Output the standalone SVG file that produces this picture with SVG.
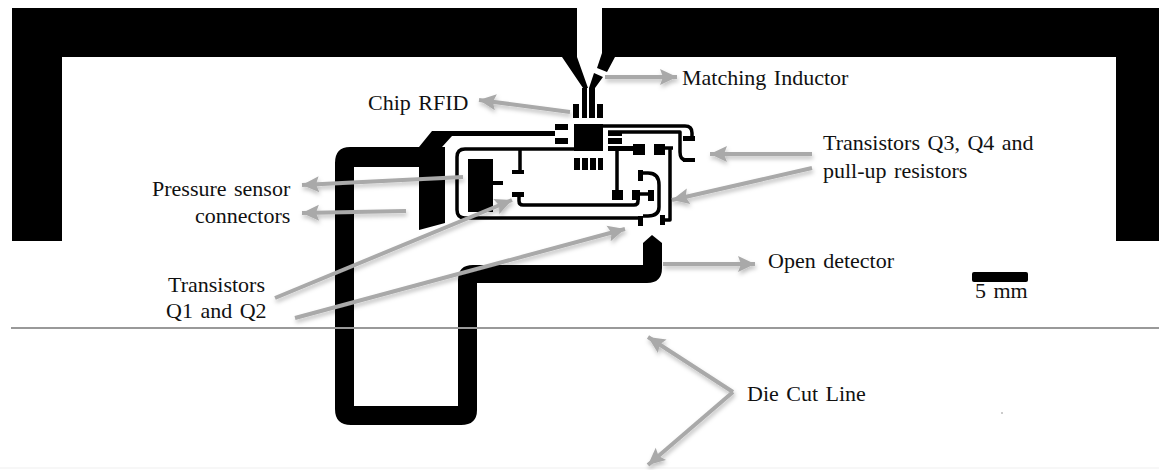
<svg xmlns="http://www.w3.org/2000/svg" width="1159" height="470" viewBox="0 0 1159 470">
<defs>
<style>
text{font-family:"Liberation Serif","Times New Roman",serif;font-size:22px;fill:#111;word-spacing:2px}
.k{fill:#000;stroke:none}
.t{fill:none;stroke:#000;stroke-width:3.5;stroke-linejoin:round}
.a{fill:none;stroke:#a9a9a9;stroke-width:4;marker-end:url(#ah)}
</style>
<marker id="ah" markerUnits="userSpaceOnUse" markerWidth="22" markerHeight="22" refX="20" refY="11" orient="auto"><path d="M2 11 L6 11 L3 3 L20 11 L3 19 L6 11Z" fill="#a9a9a9"/></marker>
<filter id="sh" x="0" y="0" width="1159" height="470" filterUnits="userSpaceOnUse"><feDropShadow dx="1" dy="3" stdDeviation="2" flood-color="#000" flood-opacity=".25"/></filter>
</defs>
<rect width="1159" height="470" fill="#fff"/>
<path d="M0 468H1159" stroke="#efefef" stroke-width="1"/>
<rect x="1001" y="412.500" width="2" height="1" fill="#999"/>
<g id="antenna">
<path class="k" d="M12 8H577V57L588 88H583L562 57H62V241H12Z"/>
<path class="k" d="M602 8H1159V241H1116V57H615L607 72L597 68L602 53Z"/>
</g>
<g id="chip-rfid">
<path class="k" d="M582 88h5v30h-5zM589 88L594 73L603 77L595 88V118H589ZM573 104h6v14h-6zM597 104h6v14h-6z"/>
<path class="k" d="M574 124h29v27h-29zM555 124h13v6h-13zM555 138h13v6h-13zM574 158h6v12h-6zM582 158h6v12h-6zM590 158h6v12h-6zM598 158h5v12h-5z"/>
<path class="k" d="M608 131h14v5h-14zM608 138h14v6h-14zM608 146h25v5h-25z"/>
</g>
<g id="transistors-q3-q4">
<path class="k" d="M633 144h12v11h-12zM654 144h11v11h-11zM683 136h12v5h-12zM683 158h12v4h-12z"/>
<path class="k" d="M612 190h11v10h-11zM632 190h8v10h-8zM648 190h6v11h-6zM638 170h5v11h-5zM638 216h5v10h-5zM660 215h5v10h-5z"/>
<path class="t" d="M603 126H685Q692 126 692 133V138M608 132H680V152Q680 160 686 160H690M617 150V190M665 148H673M670 148V220H664M640 194H650M643 173H648Q659 173 659 185V207Q659 216 648 216H643"/>
</g>
<g id="pressure-sensor">
<path class="k" d="M468 159h25v53h-25zM493 181h10v4h-10z"/>
<path class="k" d="M512 170h12v4h-12zM512 192h12v5h-12z"/>
<path class="t" d="M574 149H465Q457 149 457 157V210Q457 218 465 218H640M520 149V172M519 195V201Q519 205 523 205H634Q638 205 638 201V197"/>
<path class="t" d="M540 133.500H555"/>
</g>
<g id="feed-loop">
<path class="k" d="M350 147H419L432 131H555V136H452L442 147H445V223L419 230V167H354V406H458V280Q458 265 473 265H643V243L652 235L662 243V268Q662 283 647 283H477V410Q477 425 461 425H351Q335 425 335 409V163Q335 147 350 147Z"/>
</g>
<g id="scale">
<rect class="k" x="972" y="272" width="56" height="10" rx="2"/>
<text x="975" y="298">5 mm</text>
</g>
<g id="cut-line">
<path d="M11 328H1159" stroke="#999" stroke-width="2"/>
</g>
<g id="connectors" filter="url(#sh)">
<path class="a" d="M605 77H677"/>
<path class="a" d="M570 112L479 100"/>
<path class="a" d="M812 154H710"/>
<path class="a" d="M812 168L672 200"/>
<path class="a" d="M463 177L302 185"/>
<path class="a" d="M406 211L302 213"/>
<path class="a" d="M275 298L512 200"/>
<path class="a" d="M295 318L625 229"/>
<path class="a" d="M663 264H755"/>
<path class="a" d="M733 392L648 337"/>
<path class="a" d="M733 392L648 465"/>
</g>
<g id="labels">
<text x="682" y="85">Matching Inductor</text>
<text x="368" y="110">Chip RFID</text>
<text x="823" y="150">Transistors Q3, Q4 and</text>
<text x="823" y="178">pull-up resistors</text>
<text x="152" y="196">Pressure sensor</text>
<text x="195" y="223">connectors</text>
<text x="168" y="292">Transistors</text>
<text x="166" y="318">Q1 and Q2</text>
<text x="768" y="268">Open detector</text>
<text x="747" y="401">Die Cut Line</text>
</g>
</svg>
